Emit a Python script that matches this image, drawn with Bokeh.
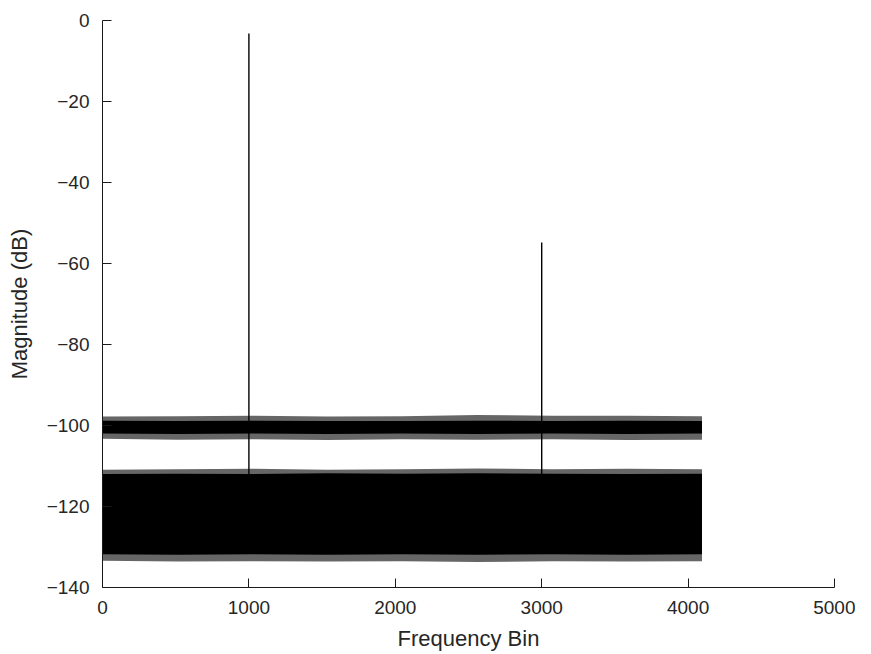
from bokeh.plotting import figure
from bokeh.models import Range1d, FixedTicker
from bokeh.embed import file_html
from bokeh.resources import INLINE

# ---- data ----
env_bins = [0, 512, 1024, 1536, 2048, 2560, 3072, 3584, 4095]
# upper trace (noise floor near -100 dB)
upper_fringe_top = [-97.8, -97.7, -97.6, -97.8, -97.7, -97.4, -97.6, -97.6, -97.7]
upper_core_top = [-98.8, -98.9, -98.8, -98.9, -98.9, -98.8, -98.9, -98.8, -98.9]
upper_core_bot = [-102.0, -102.1, -102.0, -102.1, -102.0, -102.1, -102.0, -102.1, -102.0]
upper_fringe_bot = [-103.3, -103.5, -103.4, -103.6, -103.4, -103.5, -103.4, -103.6, -103.5]
# lower trace (dense noise band)
lower_fringe_top = [-110.9, -110.8, -110.7, -110.9, -110.8, -110.6, -110.8, -110.7, -110.8]
lower_core_top = [-112.0, -111.9, -112.0, -111.8, -111.9, -111.8, -111.9, -112.0, -111.9]
lower_core_bot = [-131.8, -131.9, -131.8, -131.9, -131.8, -131.9, -131.8, -131.9, -131.8]
lower_fringe_bot = [-133.4, -133.6, -133.5, -133.6, -133.5, -133.7, -133.5, -133.6, -133.5]
# tones
peak_bins = [1000, 3000]
peak_db = [-3.2, -54.8]
peak_base_db = [-112.0, -112.0]

x_ticks = [0, 1000, 2000, 3000, 4000, 5000]
y_ticks = [-140, -120, -100, -80, -60, -40, -20, 0]

FONT = "Liberation Sans"
TXT = "#262626"

p = figure(width=855, height=654, output_backend="svg", toolbar_location=None,
           x_range=Range1d(0, 5000), y_range=Range1d(-140, 0),
           min_border_left=102, min_border_right=21, min_border_top=20,
           min_border_bottom=67)

p.outline_line_color = None
p.grid.grid_line_color = None
p.background_fill_color = "white"

# bands
p.varea(x=env_bins, y1=upper_fringe_bot, y2=upper_fringe_top, fill_color="black", fill_alpha=0.6)
p.varea(x=env_bins, y1=upper_core_bot, y2=upper_core_top, fill_color="black", fill_alpha=1.0)
p.varea(x=env_bins, y1=lower_fringe_bot, y2=lower_fringe_top, fill_color="black", fill_alpha=0.6)
p.varea(x=env_bins, y1=lower_core_bot, y2=lower_core_top, fill_color="black", fill_alpha=1.0)

# tone peaks
p.segment(x0=peak_bins, y0=peak_base_db, x1=peak_bins, y1=peak_db,
          line_color="black", line_width=1.4)

for ax in (p.xaxis[0], p.yaxis[0]):
    ax.major_tick_in = 9
    ax.major_tick_out = 0
    ax.minor_tick_in = 0
    ax.minor_tick_out = 0
    ax.axis_line_color = "#1a1a1a"
    ax.major_tick_line_color = "#1a1a1a"
    ax.major_label_text_font = FONT
    ax.major_label_text_font_size = "19px"
    ax.major_label_text_color = TXT
    ax.axis_label_text_font = FONT
    ax.axis_label_text_font_size = "22px"
    ax.axis_label_text_font_style = "normal"
    ax.axis_label_text_color = TXT

p.xaxis.ticker = FixedTicker(ticks=x_ticks)
p.yaxis.ticker = FixedTicker(ticks=y_ticks)
p.xaxis.major_label_overrides = {t: str(t) for t in x_ticks}
p.yaxis.major_label_overrides = {t: ("\u2212" + str(-t) if t < 0 else str(t)) for t in y_ticks}
p.xaxis.axis_label = "Frequency Bin"
p.yaxis.axis_label = "Magnitude (dB)"
p.xaxis.major_label_standoff = 13
p.yaxis.major_label_standoff = 13
p.xaxis.axis_label_standoff = 9
p.yaxis.axis_label_standoff = 12

open("out.html", "w").write(file_html(p, INLINE))
